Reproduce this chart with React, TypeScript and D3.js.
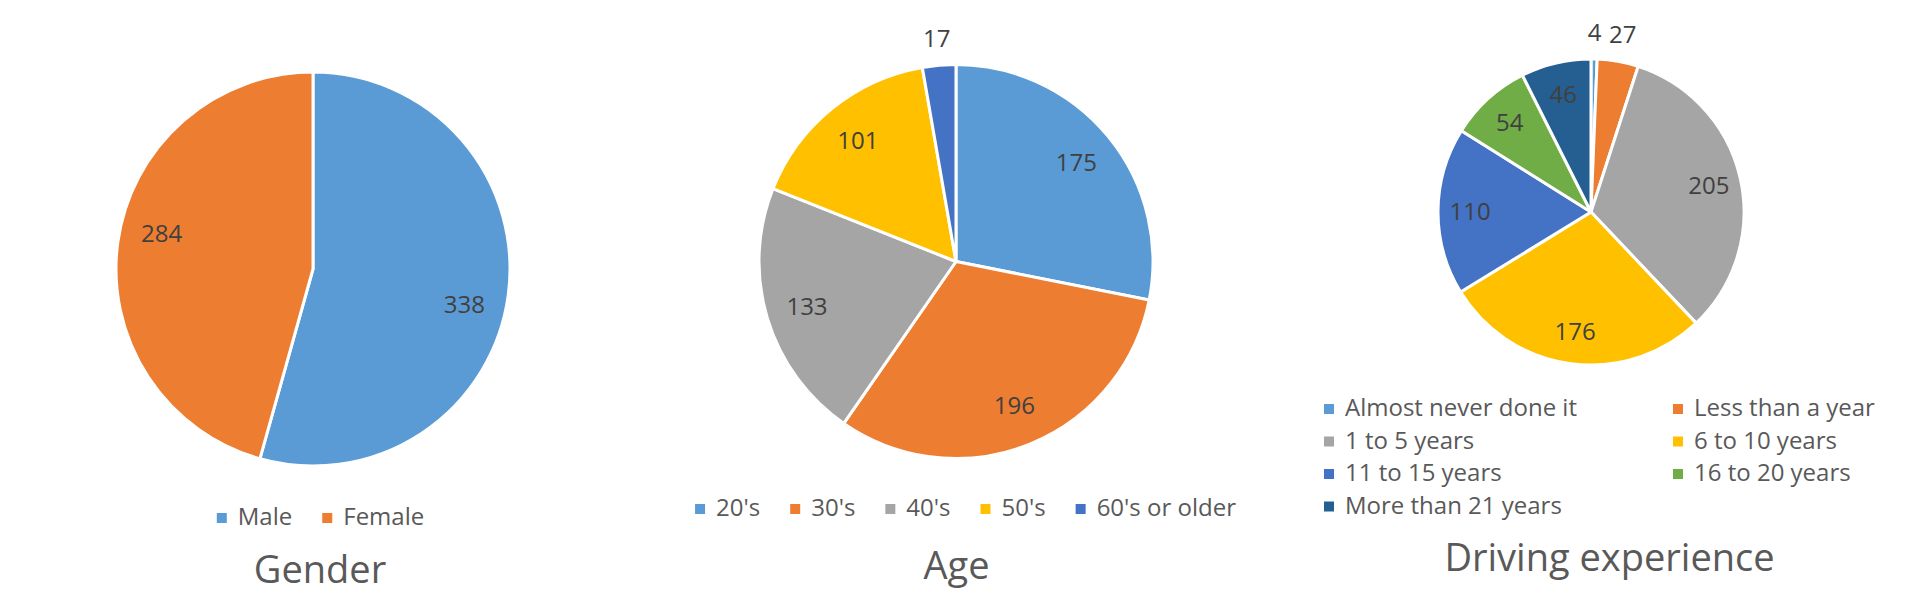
import React from "react";
import * as d3 from "d3";

// ---------- data ----------
const genderCats = ["Male", "Female"];
const genderVals = [338, 284];

const ageCats = ["20's", "30's", "40's", "50's", "60's or older"];
const ageVals = [175, 196, 133, 101, 17];

const driveCats = [
  "Almost never done it",
  "Less than a year",
  "1 to 5 years",
  "6 to 10 years",
  "11 to 15 years",
  "16 to 20 years",
  "More than 21 years",
];
const driveVals = [4, 27, 205, 176, 110, 54, 46];

const palette = ["#5B9BD5", "#ED7D31", "#A5A5A5", "#FFC000", "#4472C4", "#70AD47", "#255E91"];

const FONT = "'Open Sans', 'Noto Sans', sans-serif";
const LABEL_FS = 24;
const LEGEND_FS = 24;
const TITLE_FS = 38;

let _ctx: CanvasRenderingContext2D | null = null;
function measure(text: string, fs: number) {
  if (!_ctx) {
    const c = document.createElement("canvas");
    _ctx = c.getContext("2d");
  }
  if (!_ctx) return text.length * fs * 0.55;
  _ctx.font = `${fs}px 'Open Sans'`;
  return _ctx.measureText(text).width;
}

type PieProps = {
  cats: string[];
  vals: number[];
  cx: number;
  cy: number;
  r: number;
  labelRot?: number;
  title: string;
  titleX: number;
  titleY: number;
  legend: "row" | "grid";
  legendX: number;
  legendY: number;
};

function PieChart(p: PieProps) {
  const data = p.cats.map((c, i) => ({ cat: c, val: p.vals[i], color: palette[i] }));
  const total = d3.sum(p.vals);
  const pie = d3
    .pie<any>()
    .sort(null)
    .value((d: any) => d.val)
    .startAngle(0)
    .endAngle(Math.PI * 2);
  const arcs = pie(data);
  const arc = d3.arc<any>().innerRadius(0).outerRadius(p.r);
  const rot = ((p.labelRot || 0) * Math.PI) / 180;

  const labels = arcs.map((a) => {
    const outside = a.data.val / total < 0.05;
    const mid = (a.startAngle + a.endAngle) / 2 + (outside ? 0 : rot);
    const rr = outside ? p.r + 27 : p.r * 0.79;
    return {
      x: p.cx + rr * Math.sin(mid),
      y: p.cy - rr * Math.cos(mid),
      text: String(a.data.val),
    };
  });

  // legend layout
  const marker = 10;
  const mgap = 11;
  let legendItems: { x: number; y: number; cat: string; color: string }[] = [];
  if (p.legend === "row") {
    const widths = data.map((d) => marker + mgap + measure(d.cat, LEGEND_FS));
    const spacing = 30;
    const tot = d3.sum(widths) + spacing * (data.length - 1);
    let x = p.legendX - tot / 2;
    data.forEach((d, i) => {
      legendItems.push({ x, y: p.legendY, cat: d.cat, color: d.color });
      x += widths[i] + spacing;
    });
  } else {
    const colW = 349;
    const rowH = 32.5;
    data.forEach((d, i) => {
      legendItems.push({
        x: p.legendX + (i % 2) * colW,
        y: p.legendY + Math.floor(i / 2) * rowH,
        cat: d.cat,
        color: d.color,
      });
    });
  }

  return (
    <g>
      <g transform={`translate(${p.cx},${p.cy})`}>
        {arcs.map((a, i) => (
          <path key={i} d={arc(a) as string} fill={a.data.color} stroke="#fff" strokeWidth={3} strokeLinejoin="round" />
        ))}
      </g>
      {labels.map((l, i) => (
        <text
          key={i}
          x={l.x}
          y={l.y + LABEL_FS * 0.357}
          textAnchor="middle"
          fontFamily={FONT}
          fontSize={LABEL_FS}
          fill="#404040"
        >
          {l.text}
        </text>
      ))}
      {legendItems.map((it, i) => (
        <g key={i}>
          <rect x={it.x} y={it.y - 12} width={marker} height={marker} fill={it.color} />
          <text x={it.x + marker + mgap} y={it.y} fontFamily={FONT} fontSize={LEGEND_FS} fill="#595959">
            {it.cat}
          </text>
        </g>
      ))}
      <text
        x={p.titleX}
        y={p.titleY}
        textAnchor="middle"
        fontFamily={FONT}
        fontSize={TITLE_FS}
        fill="#595959"
      >
        {p.title}
      </text>
    </g>
  );
}

export default function App() {
  return (
    <svg
      width={1915}
      height={601}
      style={{ position: "absolute", left: 0, top: 0, background: "#fff" }}
    >
      <rect width={1915} height={601} fill="#fff" />
      <PieChart
        cats={genderCats}
        vals={genderVals}
        cx={313}
        cy={269}
        r={197}
        labelRot={5.5}
        title="Gender"
        titleX={320}
        titleY={583}
        legend="row"
        legendX={320.5}
        legendY={525}
      />
      <PieChart
        cats={ageCats}
        vals={ageVals}
        cx={956}
        cy={261.5}
        r={197}
        title="Age"
        titleX={956.5}
        titleY={579}
        legend="row"
        legendX={965.5}
        legendY={516}
      />
      <PieChart
        cats={driveCats}
        vals={driveVals}
        cx={1591}
        cy={212}
        r={153}
        title="Driving experience"
        titleX={1609.5}
        titleY={571}
        legend="grid"
        legendX={1324}
        legendY={416}
      />
    </svg>
  );
}
